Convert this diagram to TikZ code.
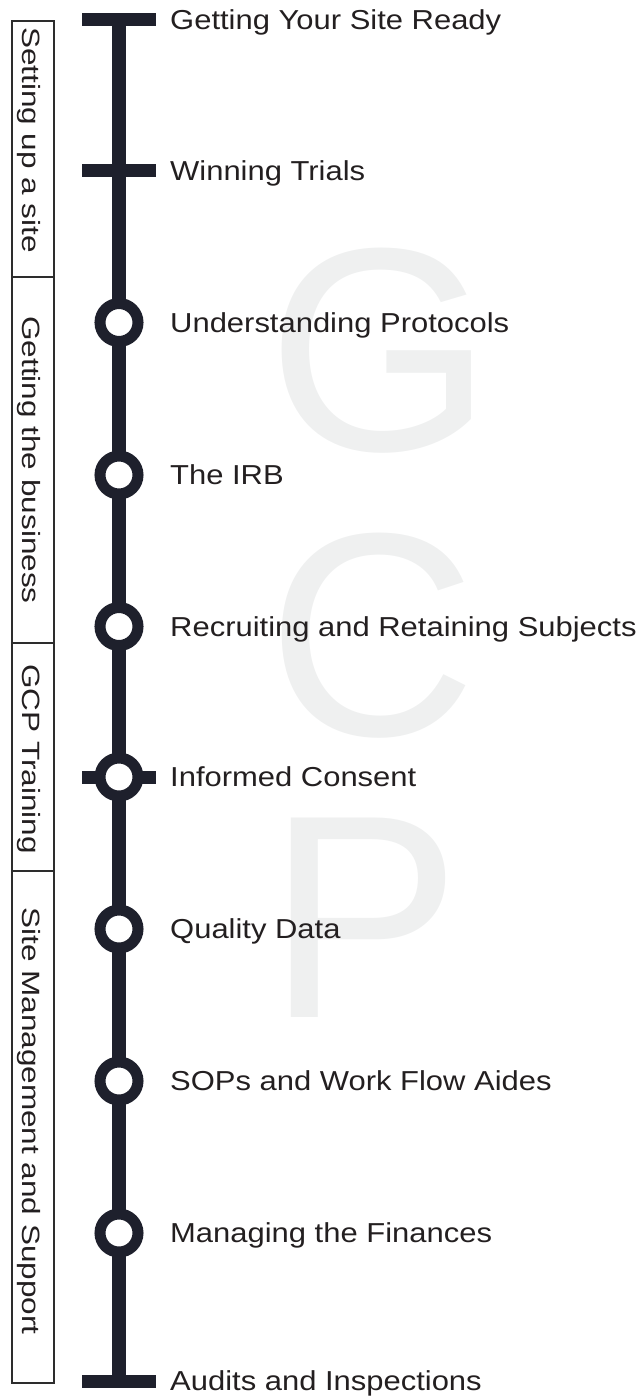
\documentclass[tikz,border=0pt]{standalone}
\usepackage{fontspec}
\setmainfont{Liberation Sans}[FakeStretch=1.13]
\newfontfamily\phasefont{Liberation Sans}[FakeStretch=1.26]
\newfontfamily\markfont{Liberation Sans}
\usepackage{tikz}
\usetikzlibrary{positioning}
\definecolor{track}{RGB}{30,32,44}
\definecolor{ink}{RGB}{35,31,32}
\definecolor{boxgray}{RGB}{45,45,45}
\definecolor{wmgray}{RGB}{239,240,240}

\begin{document}
\begin{tikzpicture}[x=1pt,y=-1pt]
          \tikzset{StopStyle/.style = {circle, draw=track, line width=11pt, fill=white, minimum size=38pt, inner sep=0pt}}
          \tikzset{BarStyle/.style = {draw=track, line width=13pt}}
          \tikzset{LabelStyle/.style = {anchor=base west, inner sep=0pt, text=ink, font=\fontsize{27.4}{30}\selectfont}}
          \tikzset{PhaseStyle/.style = {rotate=-90, anchor=base, inner sep=0pt, text=ink, font=\phasefont\fontsize{25}{30}\selectfont}}

          \useasboundingbox (0,0) rectangle (638,1396);

          % big letters behind
          \foreach \c/\y in {G/450, C/735, P/1017}
            \node[anchor=base west, inner sep=0pt, text=wmgray, font=\markfont\fontsize{290}{290}\selectfont] (wm\c) at (267,\y) {\c};

          % phases
          \draw[boxgray, line width=1.5pt] (12,21) rectangle (54,1383);
          \foreach \y in {277, 643, 871}
            \draw[boxgray, line width=1.5pt] (12,\y) -- (54,\y);
          \foreach \y/\txt [count=\i] in {140/Setting up a site, 460/Getting the business, 759/GCP Training, 1121/Site Management and Support}
            \node[PhaseStyle] (p\i) at (22,\y) {\txt};

          % the line
          \foreach \n/\y in {1/19.7, 2/171, 3/322.5, 4/475, 5/626.5, 6/777, 7/929, 8/1081, 9/1233, 10/1381}
            \coordinate (s\n) at (119,\y);
          \draw[track, line width=14pt] (s1) -- (s10);
          \foreach \n in {1, 2, 6, 10}
            \draw[BarStyle] ([xshift=-37pt]s\n) -- ([xshift=37pt]s\n);
          \foreach \n in {3,...,9}
            \node[StopStyle] (c\n) at (s\n) {};

          \foreach \txt [count=\n] in {Getting Your Site Ready, Winning Trials, Understanding Protocols, The IRB,
              Recruiting and Retaining Subjects, Informed Consent, Quality Data, SOPs and Work Flow Aides,
              Managing the Finances, Audits and Inspections}
            \node[LabelStyle] (l\n) at ([xshift=51pt, yshift=-9.5pt]s\n) {\txt};
        \end{tikzpicture}
\end{document}
